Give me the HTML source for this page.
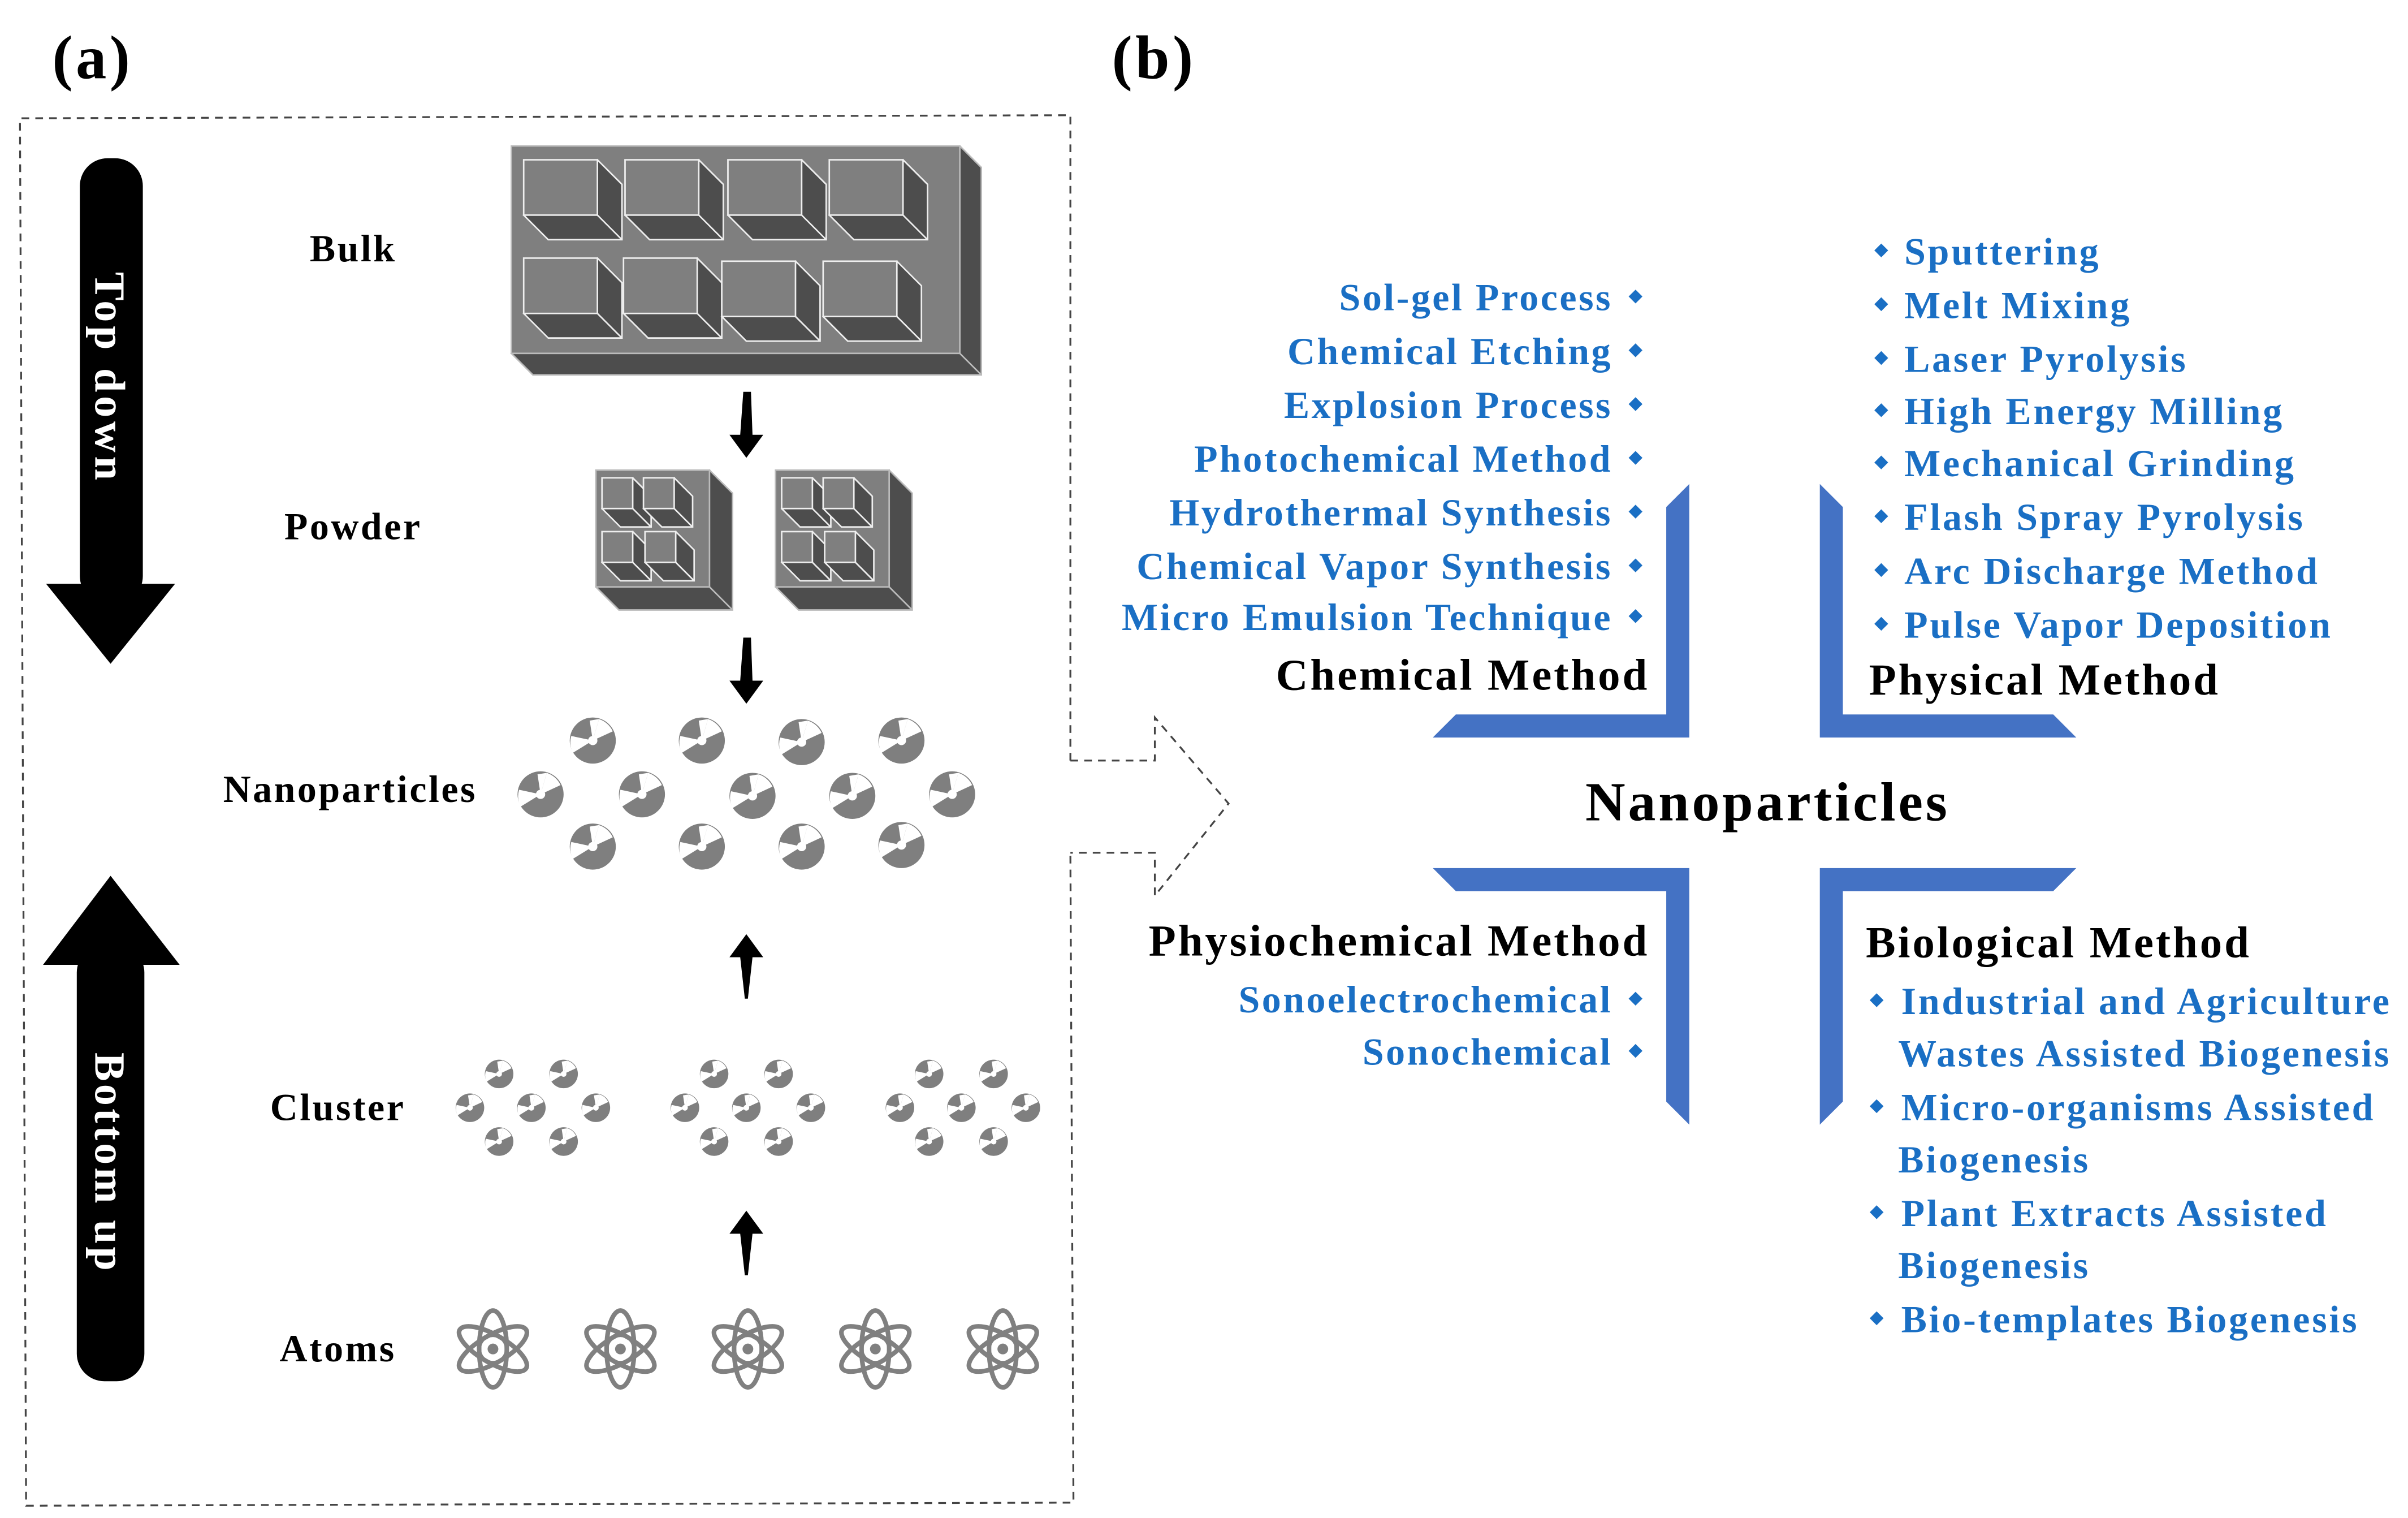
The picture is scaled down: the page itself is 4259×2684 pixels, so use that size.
<!DOCTYPE html>
<html><head><meta charset="utf-8">
<style>
html,body{margin:0;padding:0;background:#fff;}
svg{display:block;}
.lbl{font-family:"Liberation Serif",serif;font-weight:bold;}
.bl{font-family:"Liberation Serif",serif;font-weight:bold;fill:#1a6fc4;font-size:25px;letter-spacing:1.3px;}
.hd{font-family:"Liberation Serif",serif;font-weight:bold;fill:#000;font-size:29px;letter-spacing:1.45px;}
</style></head><body>
<svg id="s" width="4259" height="2684" viewBox="0 0 1568 988" preserveAspectRatio="none" xmlns="http://www.w3.org/2000/svg">
<defs>
 <g id="ball">
  <circle r="15" fill="#7f7f7f"/>
  <path d="M0,0 L-13,8 A15,15 0 0 1 -14,-3 Z" fill="#fff"/>
  <path d="M0,0 L4,-14 A15,15 0 0 1 13,-6 Z" fill="#fff"/>
  <path d="M0,0 L-2,-13 L4,-14 Z" fill="#fff"/>
  <circle r="3" fill="#fff"/>
 </g>
 <g id="atom" fill="none" stroke="#808080" stroke-width="3">
  <ellipse rx="9" ry="25"/>
  <ellipse rx="9" ry="25" transform="rotate(60)"/>
  <ellipse rx="9" ry="25" transform="rotate(-60)"/>
  <circle r="9" stroke-width="2.5"/>
  <circle r="3.5" fill="#808080" stroke="none"/>
 </g>
</defs>

<text x="34" y="51" class="lbl" font-size="40" letter-spacing="2">(a)</text>
<text x="724" y="51" class="lbl" font-size="40" letter-spacing="2">(b)</text>

<path d="M697,495 L697,75 L13,77 L17,980 L699,978 L697,555" fill="none" stroke="#444" stroke-width="1.2" stroke-dasharray="5,4"/>
<path d="M697,495 L752,495 L752,467 L800,523 L752,583 L752,555 L697,555" fill="none" stroke="#444" stroke-width="1.2" stroke-dasharray="5,4"/>

<rect x="52" y="103" width="41" height="290" rx="18" fill="#000"/>
<polygon points="30,380 114,380 72,432" fill="#000"/>
<text transform="translate(62,246) rotate(90)" text-anchor="middle" class="lbl" font-size="28" letter-spacing="2.5" fill="#fff">Top down</text>
<rect x="50" y="615" width="44" height="284" rx="18" fill="#000"/>
<polygon points="28,628 117,628 72,570" fill="#000"/>
<text transform="translate(62,757) rotate(90)" text-anchor="middle" class="lbl" font-size="28" letter-spacing="1.9" fill="#fff">Bottom up</text>

<g class="lbl" font-size="25" letter-spacing="1.3" text-anchor="middle">
<text x="230" y="170">Bulk</text>
<text x="230" y="351">Powder</text>
<text x="228" y="522">Nanoparticles</text>
<text x="220" y="729">Cluster</text>
<text x="220" y="886">Atoms</text>
</g>

<g id="icons"></g>

<g fill="#000">
 <polygon points="484,255 489,255 490,283 497,283 486,298 475,283 482,283"/>
 <polygon points="484,415 489,415 490,443 497,443 486,458 475,443 482,443"/>
 <polygon points="486,608 497,623 490,623 487,650 485,650 482,623 475,623"/>
 <polygon points="486,788 497,803 490,803 487,830 485,830 482,803 475,803"/>
</g>

<g fill="#4472c4">
 <polygon points="1085,330 1100,315 1100,480 933,480 948,465 1085,465"/>
 <polygon points="1185,315 1200,330 1200,465 1337,465 1352,480 1185,480"/>
 <polygon points="933,565 1100,565 1100,732 1085,717 1085,580 948,580"/>
 <polygon points="1185,565 1352,565 1337,580 1200,580 1200,717 1185,732"/>
</g>
<text x="1151" y="534" text-anchor="middle" class="lbl" font-size="36" letter-spacing="1.8">Nanoparticles</text>

<g class="bl" text-anchor="end">
 <text x="1050" y="202">Sol-gel Process</text>
 <text x="1050" y="237">Chemical Etching</text>
 <text x="1050" y="272">Explosion Process</text>
 <text x="1050" y="307">Photochemical Method</text>
 <text x="1050" y="342">Hydrothermal Synthesis</text>
 <text x="1050" y="377">Chemical Vapor Synthesis</text>
 <text x="1050" y="410">Micro Emulsion Technique</text>
 <text x="1050" y="659">Sonoelectrochemical</text>
 <text x="1050" y="693">Sonochemical</text>
</g>
<text x="1074" y="449" text-anchor="end" class="hd">Chemical Method</text>
<text x="1074" y="622" text-anchor="end" class="hd">Physiochemical Method</text>
<text x="1217" y="452" class="hd">Physical Method</text>
<text x="1215" y="623" class="hd">Biological Method</text>

<g class="bl" style="letter-spacing:1.4px">
 <text x="1240" y="172">Sputtering</text>
 <text x="1240" y="207">Melt Mixing</text>
 <text x="1240" y="242">Laser Pyrolysis</text>
 <text x="1240" y="276">High Energy Milling</text>
 <text x="1240" y="310">Mechanical Grinding</text>
 <text x="1240" y="345">Flash Spray Pyrolysis</text>
 <text x="1240" y="380">Arc Discharge Method</text>
 <text x="1240" y="415">Pulse Vapor Deposition</text>
 <text x="1238" y="660">Industrial and Agriculture</text>
 <text x="1236" y="694">Wastes Assisted Biogenesis</text>
 <text x="1238" y="729">Micro-organisms Assisted</text>
 <text x="1236" y="763">Biogenesis</text>
 <text x="1238" y="798">Plant Extracts Assisted</text>
 <text x="1236" y="832">Biogenesis</text>
 <text x="1238" y="867">Bio-templates Biogenesis</text>
</g>
<g id="dia" fill="#1a6fc4"></g>
</svg>
<script>
var NS="http://www.w3.org/2000/svg";
var ic=document.getElementById("icons"), dg=document.getElementById("dia");
function el(p,t,a){var e=document.createElementNS(NS,t);for(var k in a)e.setAttribute(k,a[k]);p.appendChild(e);return e;}
function box(x,y,w,h,d,outline){
  el(ic,"polygon",{points:(x+w)+","+y+" "+(x+w+d)+","+(y+d)+" "+(x+w+d)+","+(y+h+d)+" "+(x+d)+","+(y+h+d)+" "+x+","+(y+h),fill:"#4d4d4d",stroke:outline,"stroke-width":1});
  el(ic,"rect",{x:x,y:y,width:w,height:h,fill:"#7f7f7f",stroke:outline,"stroke-width":1});
  el(ic,"line",{x1:x+w,y1:y+h,x2:x+w+d,y2:y+h+d,stroke:outline,"stroke-width":1});
}
box(333,95,292,135,14,"#bbb");
var bx=[[341,104],[407,104],[474,104],[540,104],[341,168],[406,168],[470,170],[536,170]];
bx.forEach(function(b){box(b[0],b[1],48,36,16,"#eee");});
[[388,306],[505,306]].forEach(function(p){
  box(p[0],p[1],74,76,15,"#bbb");
  [[4,5],[31,5],[4,40],[32,40]].forEach(function(o){box(p[0]+o[0],p[1]+o[1],20,20,12,"#eee");});
});
var np=[[386,482],[457,482],[522,483],[587,482],[352,517],[418,517],[490,518],[555,518],[620,517],[386,551],[457,551],[522,551],[587,550]];
np.forEach(function(p){el(ic,"use",{href:"#ball",transform:"translate("+p[0]+","+p[1]+")"});});
[346,486,626].forEach(function(cx){
  [[-21,-22],[21,-22],[-40,0],[0,0],[42,0],[-21,22],[21,22]].forEach(function(o){
    el(ic,"use",{href:"#ball",transform:"translate("+(cx+o[0])+","+(721+o[1])+") scale(0.62)"});
  });
});
[321,404,487,570,653].forEach(function(x){el(ic,"use",{href:"#atom",transform:"translate("+x+",878)"});});
function dm(x,y){el(dg,"polygon",{points:x+","+(y-4.5)+" "+(x+4.5)+","+y+" "+x+","+(y+4.5)+" "+(x-4.5)+","+y});}
[193,228,263,298,333,368,401,650,684].forEach(function(y){dm(1065,y);});
[163,198,233,267,301,336,371,406].forEach(function(y){dm(1225,y);});
[651,720,789,858].forEach(function(y){dm(1222,y);});
</script>
</body></html>
